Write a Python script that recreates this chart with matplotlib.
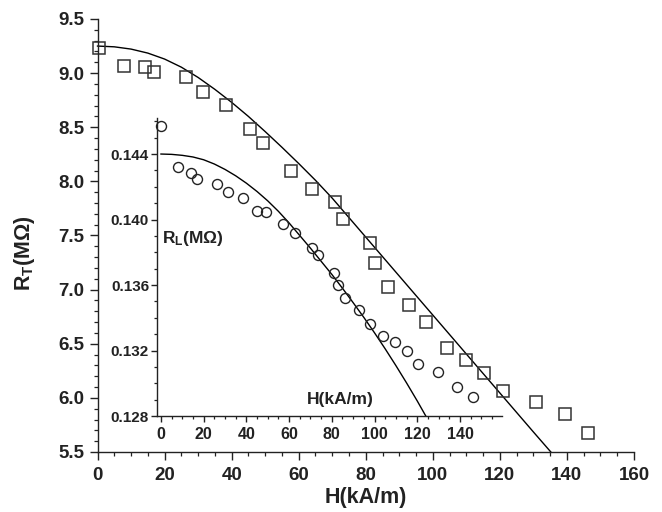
import matplotlib
matplotlib.use("Agg")
import matplotlib.pyplot as plt
from matplotlib.ticker import MultipleLocator, FormatStrFormatter

plt.rcParams['font.family'] = ['Liberation Sans', 'DejaVu Sans']
plt.rcParams['font.weight'] = 'bold'
plt.rcParams['mathtext.fontset'] = 'custom'
plt.rcParams['mathtext.bf'] = 'Liberation Sans:bold'
plt.rcParams['mathtext.rm'] = 'Liberation Sans:bold'
plt.rcParams['mathtext.default'] = 'bf'

# R_T (squares, main axes)
sq_h = [0.3, 7.8, 14.3, 16.7, 26.3, 31.6, 38.2, 45.4, 49.3, 57.6, 63.9, 70.7, 73.1,
        81.2, 82.7, 86.6, 92.8, 97.9, 104.2, 109.9, 115.2, 120.9, 130.7, 139.4, 146.3]
sq_r = [9.23, 9.07, 9.06, 9.01, 8.96, 8.83, 8.71, 8.48, 8.35, 8.10, 7.93, 7.81, 7.65,
        7.43, 7.25, 7.02, 6.86, 6.70, 6.46, 6.35, 6.23, 6.06, 5.96, 5.85, 5.68]
# fitted curve
fit_t_h = [0, 5, 10, 15, 20, 25, 30, 35, 40, 45, 50, 55, 60, 65, 70, 75, 80,
           90, 100, 110, 120, 130, 135.2]
fit_t_r = [9.250, 9.243, 9.222, 9.185, 9.130, 9.055, 8.960, 8.850, 8.730, 8.600,
           8.460, 8.315, 8.165, 8.010, 7.845, 7.665, 7.485,
           7.125, 6.765, 6.405, 6.045, 5.685, 5.500]

# R_L (circles, inset)
ring_h = [0, 8.0, 14.1, 16.9, 26.3, 31.5, 38.5, 45.1, 49.3, 57.3, 62.9, 70.9, 73.3,
          80.8, 82.7, 86.4, 92.5, 97.7, 103.8, 109.4, 115.1, 120.2, 129.6, 138.5, 146.1]
ring_r = [0.14571, 0.14321, 0.14284, 0.14247, 0.14217, 0.14168, 0.14131, 0.14052, 0.14045,
          0.13972, 0.13917, 0.13826, 0.13783, 0.13672, 0.13599, 0.13520, 0.13446, 0.13361,
          0.13287, 0.13251, 0.13196, 0.13116, 0.13067, 0.12976, 0.12914]
fit_l_h = [0, 5, 10, 15, 20, 25, 30, 35, 40, 45, 50, 55, 60, 65, 70, 75, 80,
           85, 90, 95, 100, 105, 110, 115, 120, 124]
fit_l_r = [0.14400, 0.14398, 0.14392, 0.14382, 0.14365, 0.14339, 0.14306, 0.14267,
           0.14222, 0.14171, 0.14114, 0.14050, 0.13979, 0.13902, 0.13825, 0.13745,
           0.13665, 0.13580, 0.13492, 0.13402, 0.13308, 0.13210, 0.13108, 0.13002,
           0.12892, 0.12800]

ink = '#222222'

fig = plt.figure(figsize=(6.62, 5.12), dpi=100)
ax = fig.add_axes([0.1473, 0.1172, 0.8104, 0.8457])
ax.plot(fit_t_h, fit_t_r, color='black', lw=1.0, clip_on=False)
ax.plot(sq_h, sq_r, ls='none', marker='s', ms=8, mfc='none', mec='#333333', mew=1.1, clip_on=False)
ax.set_xlim(0, 160)
ax.set_ylim(5.5, 9.5)
ax.xaxis.set_major_locator(MultipleLocator(20))
ax.xaxis.set_minor_locator(MultipleLocator(5))
ax.yaxis.set_major_locator(MultipleLocator(0.5))
ax.yaxis.set_minor_locator(MultipleLocator(0.1))
ax.yaxis.set_major_formatter(FormatStrFormatter('%.1f'))
for s in ['top', 'right']:
    ax.spines[s].set_visible(False)
for s in ['left', 'bottom']:
    ax.spines[s].set_linewidth(1.0)
    ax.spines[s].set_color(ink)
ax.tick_params(which='major', direction='out', length=6, width=1.0, color=ink,
               labelsize=13.5, labelcolor=ink)
ax.tick_params(which='minor', direction='out', length=3, width=0.9, color=ink)
ax.tick_params(axis='x', which='major', pad=5)
ax.set_xlabel('H(kA/m)', fontsize=15.5, fontweight='bold', color=ink, labelpad=2)
ax.set_ylabel(r'R$_T$(MΩ)', fontsize=15.5, fontweight='bold', color=ink)
ax.yaxis.set_label_coords(-0.112, 0.46)

# inset
ins = fig.add_axes([0.2367, 0.1875, 0.521, 0.582])
ins.patch.set_alpha(0)
ins.plot(fit_l_h, fit_l_r, color='black', lw=1.0)
ins.plot(ring_h, ring_r, ls='none', marker='o', ms=7.2, mfc='none', mec=ink, mew=1.0, clip_on=False)
ins.set_xlim(-2, 159.5)
ins.set_ylim(0.128, 0.1462)
ins.xaxis.set_major_locator(MultipleLocator(20))
ins.xaxis.set_minor_locator(MultipleLocator(5))
ins.yaxis.set_major_locator(MultipleLocator(0.004))
ins.yaxis.set_minor_locator(MultipleLocator(0.001))
ins.yaxis.set_major_formatter(FormatStrFormatter('%.3f'))
for s in ['top', 'right']:
    ins.spines[s].set_visible(False)
for s in ['left', 'bottom']:
    ins.spines[s].set_linewidth(1.0)
    ins.spines[s].set_color(ink)
ins.tick_params(which='major', direction='out', length=4, width=1.0, color=ink,
                labelsize=11.5, labelcolor=ink)
ins.tick_params(which='minor', direction='out', length=2.5, width=0.9, color=ink)
ins.tick_params(axis='y', which='major', pad=1.5, labelsize=11)
ins.tick_params(axis='x', which='major', pad=4)
ins.text(0.015, 0.596, r'R$_L$(MΩ)', transform=ins.transAxes, ha='left', va='center',
         fontsize=12.5, fontweight='bold', color=ink)
ins.text(0.436, 0.057, 'H(kA/m)', transform=ins.transAxes, ha='left', va='center',
         fontsize=12.5, fontweight='bold', color=ink)

fig.savefig('out.png', dpi=100)
